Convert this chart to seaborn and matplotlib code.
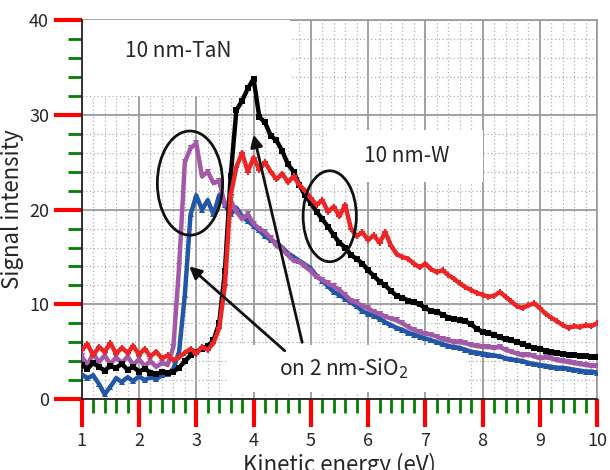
"""
Signal intensity vs kinetic energy for TaN / W with and without 2 nm SiO2.
"""

import numpy as np
import pandas as pd
import seaborn as sns
import matplotlib.pyplot as plt
from matplotlib.patches import Ellipse, Rectangle
from matplotlib.ticker import MultipleLocator

energy = np.round(np.arange(1.0, 10.01, 0.1), 1)

w_10nm = [3.6, 3.2, 3.8, 3.4, 3.0, 3.5, 3.3, 3.7, 3.1, 3.4,
          2.9, 3.2, 2.8, 2.6, 2.9, 2.7, 2.9, 3.3, 4.0, 4.6,
          5.0, 5.3, 5.6, 6.2, 8.0, 13.5, 23.5, 30.5, 31.5, 32.8,
          33.8, 29.8, 29.2, 27.8, 27.3, 26.2, 24.8, 24.0, 22.6, 21.5,
          20.7, 19.8, 19.0, 18.2, 17.3, 16.5, 16.0, 15.2, 14.8, 14.3,
          13.6, 13.0, 12.4, 12.0, 11.4, 10.9, 10.7, 10.4, 10.2, 10.0,
          9.6, 9.3, 9.2, 8.9, 8.6, 8.5, 8.3, 8.2, 7.9, 7.4,
          7.1, 7.0, 6.8, 6.5, 6.3, 6.2, 6.0, 5.8, 5.6, 5.4,
          5.3, 5.1, 5.0, 4.9, 4.8, 4.7, 4.6, 4.5, 4.5, 4.4, 4.4]

w_sio2 = [5.2, 5.8, 4.6, 5.5, 5.0, 5.9, 4.8, 5.4, 4.9, 5.6,
          4.7, 5.3, 4.5, 5.0, 4.3, 4.6, 4.1, 4.4, 4.9, 5.3,
          4.8, 5.5, 5.2, 5.9, 7.5, 12.0, 21.5, 24.5, 26.0, 24.0,
          25.5, 24.2, 25.0, 24.0, 23.2, 23.8, 22.9, 23.5, 22.6, 22.0,
          21.2, 20.5, 21.0, 19.8, 20.3, 19.3, 20.5, 18.0, 17.2, 17.6,
          16.8, 17.3, 16.5, 17.6, 16.2, 15.3, 15.0, 14.8, 14.3, 13.9,
          14.3, 13.7, 13.4, 13.6, 13.1, 12.7, 12.2, 11.8, 11.5, 11.2,
          11.0, 10.8, 10.9, 11.3, 10.8, 10.3, 9.8, 9.6, 9.9, 10.1,
          9.6, 9.0, 8.6, 8.2, 7.8, 7.5, 7.7, 7.6, 7.8, 7.7, 8.0]

tan_10nm = [4.5, 3.6, 4.8, 3.9, 4.6, 3.7, 4.4, 3.8, 4.5, 3.6,
            4.2, 3.5, 4.0, 3.4, 3.8, 3.6, 5.5, 14.0, 25.0, 26.5,
            27.0, 23.5, 24.0, 22.8, 23.0, 20.5, 21.0, 19.8, 19.0, 19.5,
            18.5, 18.0, 17.6, 17.0, 16.2, 15.8, 15.2, 14.6, 14.5, 14.0,
            13.5, 12.9, 12.6, 12.2, 11.9, 11.5, 11.0, 10.4, 10.2, 9.8,
            9.6, 9.2, 9.0, 8.7, 8.5, 8.3, 8.0, 7.6, 7.3, 7.1,
            6.9, 6.8, 6.6, 6.3, 6.2, 6.0, 6.0, 5.9, 5.7, 5.6,
            5.5, 5.5, 5.4, 5.5, 5.2, 5.0, 4.8, 4.6, 4.7, 4.5,
            4.3, 4.4, 4.3, 4.1, 4.0, 3.9, 3.8, 3.7, 3.6, 3.5, 3.5]

tan_sio2 = [2.6, 2.2, 2.5, 1.6, 0.5, 1.3, 2.2, 1.8, 2.3, 1.9,
            2.4, 2.0, 2.3, 2.1, 2.5, 2.6, 3.2, 5.0, 11.0, 19.5,
            21.5, 20.0, 21.0, 19.5, 21.5, 20.5, 19.5, 20.2, 19.3, 18.8,
            18.3, 17.8, 17.2, 16.8, 16.5, 16.0, 15.4, 15.0, 14.6, 14.2,
            13.8, 13.0, 12.5, 11.9, 11.3, 11.0, 10.6, 10.2, 9.8, 9.3,
            9.0, 8.8, 8.5, 8.1, 7.8, 7.5, 7.3, 7.0, 6.8, 6.6,
            6.4, 6.2, 6.0, 5.8, 5.6, 5.5, 5.4, 5.2, 5.0, 4.9,
            4.8, 4.7, 4.6, 4.5, 4.3, 4.2, 4.1, 4.0, 3.8, 3.7,
            3.6, 3.5, 3.4, 3.3, 3.3, 3.2, 3.1, 3.0, 2.9, 2.9, 2.8]

series = {
    "TaN/SiO2": tan_sio2,
    "TaN": tan_10nm,
    "W": w_10nm,
    "W/SiO2": w_sio2,
}
colors = {"TaN/SiO2": "#2157a6", "TaN": "#a259a8", "W": "#000000", "W/SiO2": "#ec2626"}
markers = {"TaN/SiO2": "^", "TaN": "v", "W": "s", "W/SiO2": "P"}

df = pd.concat(
    [pd.DataFrame({"energy": energy, "signal": v, "sample": k}) for k, v in series.items()]
)

sns.set_theme(style="ticks")
plt.rcParams["font.family"] = ["Noto Sans CJK JP", "DejaVu Sans"]

fig, ax = plt.subplots(figsize=(6.1, 4.7), dpi=100)
fig.subplots_adjust(left=0.134, right=0.979, bottom=0.151, top=0.957)

sns.lineplot(
    data=df, x="energy", y="signal", hue="sample", style="sample",
    palette=colors, markers=markers, dashes=False, estimator=None,
    linewidth=3.2, markersize=5, markeredgewidth=0, legend=False, ax=ax, zorder=3,
)

ax.set_xlim(1, 10)
ax.set_ylim(0, 40)
ax.xaxis.set_major_locator(MultipleLocator(1))
ax.xaxis.set_minor_locator(MultipleLocator(0.2))
ax.yaxis.set_major_locator(MultipleLocator(10))
ax.yaxis.set_minor_locator(MultipleLocator(2))
ax.grid(which="major", color="#9a9a9a", linewidth=1.3)
ax.grid(which="minor", color="#b0b0b0", linewidth=0.9, linestyle=(0, (1, 2)))
for s in ["top", "right"]:
    ax.spines[s].set_color("#9a9a9a")
for s in ["left", "bottom"]:
    ax.spines[s].set_color("#222222")
    ax.spines[s].set_linewidth(1.3)
    ax.spines[s].set_zorder(2.8)
ax.set_xlabel("Kinetic energy (eV)", fontsize=16, labelpad=2)
ax.set_ylabel("Signal intensity", fontsize=16, labelpad=4)

for x0, y0, w, h in [(1.0, 32.0, 3.64, 8.0), (5.28, 22.9, 2.73, 5.5), (3.53, 0.75, 4.18, 4.95)]:
    ax.add_patch(Rectangle((x0, y0), w, h, facecolor="white", edgecolor="none", zorder=2.6))

ax.text(2.68, 36.8, "10 nm-TaN", fontsize=15, ha="center", va="center", zorder=5)
ax.text(6.68, 25.7, "10 nm-W", fontsize=15, ha="center", va="center", zorder=5)
ax.text(5.57, 3.2, "on 2 nm-SiO$_2$", fontsize=15, ha="center", va="center", zorder=5)

ax.add_patch(Ellipse((2.89, 22.8), 1.14, 11.0, fill=False, edgecolor="#111111", linewidth=2, zorder=6))
ax.add_patch(Ellipse((5.33, 19.3), 0.93, 9.6, fill=False, edgecolor="#111111", linewidth=2, zorder=6))

arrow = dict(arrowstyle="-|>", color="#111111", lw=2, mutation_scale=18)
ax.annotate("", xy=(2.84, 14.2), xytext=(4.58, 4.9), arrowprops=arrow, zorder=6)
ax.annotate("", xy=(3.99, 28.2), xytext=(4.86, 5.7), arrowprops=arrow, zorder=6)

# diagnostic: very large ticks to see whether tick marks render at all
ax.tick_params(axis="both", which="major", direction="out", length=20, width=3,
               color="red", labelsize=13, bottom=True, left=True)
ax.tick_params(axis="both", which="minor", direction="out", length=10, width=2,
               color="green", bottom=True, left=True)

plt.savefig("out.png")
